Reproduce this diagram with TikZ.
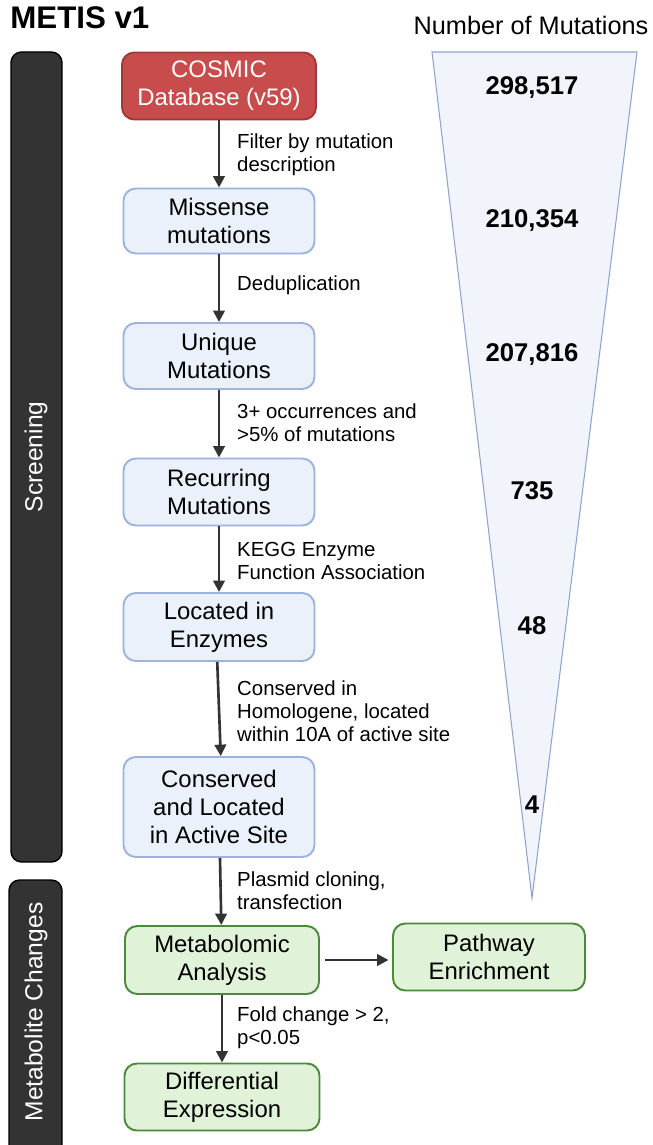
\documentclass[tikz,border=0pt]{standalone}
\usepackage{fontspec}
\setmainfont{Liberation Sans}
\usetikzlibrary{arrows.meta}
\definecolor{sidebar}{HTML}{333333}
\definecolor{cosmicfill}{HTML}{C94C4C}
\definecolor{cosmicline}{HTML}{A13838}
\definecolor{stepfill}{HTML}{EAF1FB}
\definecolor{stepline}{HTML}{9DB2DC}
\definecolor{metafill}{HTML}{E0F2D8}
\definecolor{metaline}{HTML}{4B8A3B}
\definecolor{funnelfill}{HTML}{F1F5FB}
\definecolor{funnelline}{HTML}{8FA3CC}
\tikzset{
  box/.style={rounded corners=7pt, line width=1.1pt, align=center,
    font=\fontsize{13.6}{15.9}\selectfont, inner sep=0pt},
  bluebox/.style={box, draw=stepline, fill=stepfill},
  greenbox/.style={box, draw=metaline, fill=metafill},
  redbox/.style={box, draw=cosmicline, fill=cosmicfill, text=white},
  flow/.style={draw=sidebar, line width=1.5pt, -{Triangle[length=6.5pt,width=6.5pt]}},
  note/.style={anchor=west, align=left, font=\fontsize{11.6}{13.1}\selectfont},
  count/.style={font=\bfseries\fontsize{14.6}{17}\selectfont},
  side/.style={rounded corners=6pt, fill=sidebar, draw=black, line width=0.8pt},
  sidetext/.style={rotate=90, text=white, font=\fontsize{14}{16}\selectfont}
}
\begin{document}
\begin{tikzpicture}[x=0.02cm, y=-0.02cm]
  \useasboundingbox (0,0) rectangle (652,1145);
  % headers
  \node[anchor=west, inner sep=0pt, font=\bfseries\fontsize{17.8}{20}\selectfont] (title) at (10,18) {METIS v1};
  \node[font=\fontsize{14.4}{17}\selectfont] (numhead) at (531,25) {Number of Mutations};
  % side bars
  \draw[side] (11,52) rectangle (62,862);
  \node[sidetext] (screen) at (36,457) {Screening};
  \draw[side] (9,880) rectangle (62,1160);
  \node[sidetext] (metab) at (36,1012) {Metabolite Changes};
  % funnel
  \draw[fill=funnelfill, draw=funnelline, line width=0.6pt] (432,52) -- (637,52) -- (532,898) -- cycle;
  \node[count] (n1) at (532,88) {298,517};
  \node[count] (n2) at (532,221) {210,354};
  \node[count] (n3) at (532,355) {207,816};
  \node[count] (n4) at (532,491) {735};
  \node[count] (n5) at (532,626) {48};
  \node[count] (n6) at (532,805) {4};
  % screening steps
  \node[redbox, minimum width=194*0.02cm, minimum height=67*0.02cm] (cosmic) at (219,86) {COSMIC\\Database (v59)};
  \node[bluebox, minimum width=191*0.02cm, minimum height=65*0.02cm] (missense) at (219,221) {Missense\\mutations};
  \node[bluebox, minimum width=191*0.02cm, minimum height=66*0.02cm] (unique) at (219,356) {Unique\\Mutations};
  \node[bluebox, minimum width=191*0.02cm, minimum height=67*0.02cm] (recur) at (219,492) {Recurring\\Mutations};
  \node[bluebox, minimum width=191*0.02cm, minimum height=68*0.02cm] (enzyme) at (219,627) {Located in\\Enzymes};
  \node[bluebox, minimum width=191*0.02cm, minimum height=100*0.02cm] (active) at (219,807) {Conserved\\and Located\\in Active Site};
  % metabolite steps
  \node[greenbox, minimum width=194*0.02cm, minimum height=68*0.02cm] (analysis) at (222,960) {Metabolomic\\Analysis};
  \node[greenbox, minimum width=192*0.02cm, minimum height=67*0.02cm] (pathway) at (489,957) {Pathway\\Enrichment};
  \node[greenbox, minimum width=195*0.02cm, minimum height=67*0.02cm] (diffexp) at (222,1097) {Differential\\Expression};
  % connectors
  \draw[flow] (cosmic) -- (missense);
  \draw[flow] (missense) -- (unique);
  \draw[flow] (unique) -- (recur);
  \draw[flow] (recur) -- (enzyme);
  \draw[flow] ([xshift=-1pt]enzyme.south) -- ([xshift=1pt]active.north);
  \draw[flow] (active) -- (analysis);
  \draw[flow] (analysis) -- (diffexp);
  \draw[flow] ([xshift=3pt]analysis.east) -- ([xshift=-2pt]pathway.west |- analysis.east);
  % step labels
  \node[note] (l1) at (231,155) {Filter by mutation\\description};
  \node[note] (l2) at (231,285) {Deduplication};
  \node[note] (l3) at (231,423) {3+ occurrences and\\>5\% of mutations};
  \node[note] (l4) at (231,561) {KEGG Enzyme\\Function Association};
  \node[note] (l5) at (231,711) {Conserved in\\Homologene, located\\within 10A of active site};
  \node[note] (l6) at (231,891) {Plasmid cloning,\\transfection};
  \node[note] (l7) at (231,1028) {Fold change > 2,\\p<0.05};
\end{tikzpicture}
\end{document}
